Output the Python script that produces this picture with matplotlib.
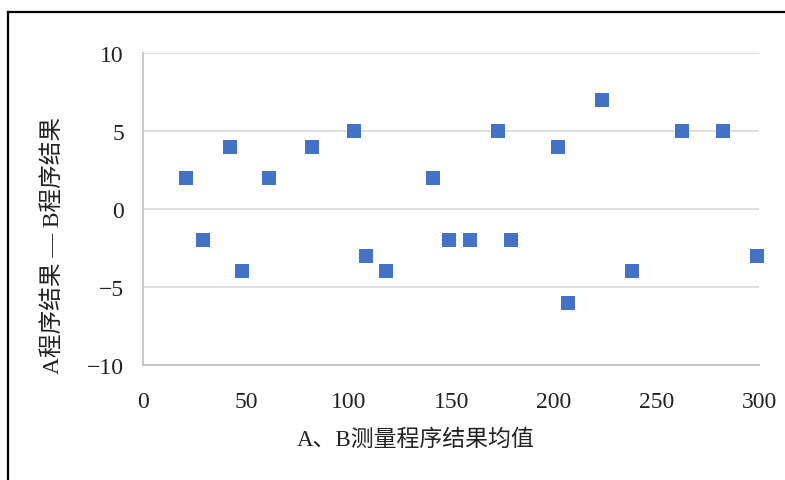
import matplotlib
matplotlib.use('Agg')
import matplotlib.pyplot as plt
from matplotlib.lines import Line2D

# 数据：A、B测量程序结果均值 与 差值
mean_ab = [21, 29, 42, 48, 61, 82, 102.5, 108.5, 118, 141, 149, 159, 172.5,
           179, 202, 207, 223.5, 238, 262.5, 282.5, 299]
diff_ab = [2, -2, 4, -4, 2, 4, 5, -3, -4, 2, -2, -2, 5, -2, 4, -6, 7, -4, 5, 5, -3]
x_ticks = [0, 50, 100, 150, 200, 250, 300]
y_ticks = [-10, -5, 0, 5, 10]

plt.rcParams['font.family'] = ['Liberation Serif', 'Noto Sans CJK SC']
plt.rcParams['axes.unicode_minus'] = True

fig = plt.figure(figsize=(7.85, 4.81), dpi=100, facecolor='white')
ax = fig.add_axes([0.1826, 0.2391, 0.7847, 0.6486])

ax.scatter(mean_ab, diff_ab, marker='s', s=115, color='#4472C4', zorder=3,
           linewidths=0, clip_on=False)

ax.set_xlim(0, 300)
ax.set_ylim(-10, 10)
ax.set_xticks(x_ticks)
ax.set_yticks(y_ticks)
ax.tick_params(axis='both', length=0, labelsize=17, colors='#222222')
ax.tick_params(axis='x', pad=19)
ax.tick_params(axis='y', pad=14)

# 网格线
ax.grid(axis='y', color='#D9D9D9', linewidth=1.2, zorder=0)
ax.set_axisbelow(True)
for s in ['top', 'right']:
    ax.spines[s].set_visible(False)
ax.spines['left'].set_color('#BFBFBF')
ax.spines['left'].set_linewidth(1.2)
ax.spines['bottom'].set_color('#BFBFBF')
ax.spines['bottom'].set_linewidth(1.2)

# 坐标轴标题
fig.text(53/785, 1-245/481, 'A程序结果 — B程序结果', rotation=90,
         ha='center', va='center', fontsize=17, color='#222222')
fig.text(416/785, 1-440/481, 'A、B测量程序结果均值',
         ha='center', va='center', fontsize=16.5, color='#222222')

# 外框
fig.add_artist(Line2D([8/785, 8/785], [0, 1-13/481], transform=fig.transFigure,
                      color='black', linewidth=1.6))
fig.add_artist(Line2D([8/785, 1], [1-13/481, 1-13/481], transform=fig.transFigure,
                      color='black', linewidth=1.6))

fig.savefig('out.png', dpi=100, facecolor='white')
